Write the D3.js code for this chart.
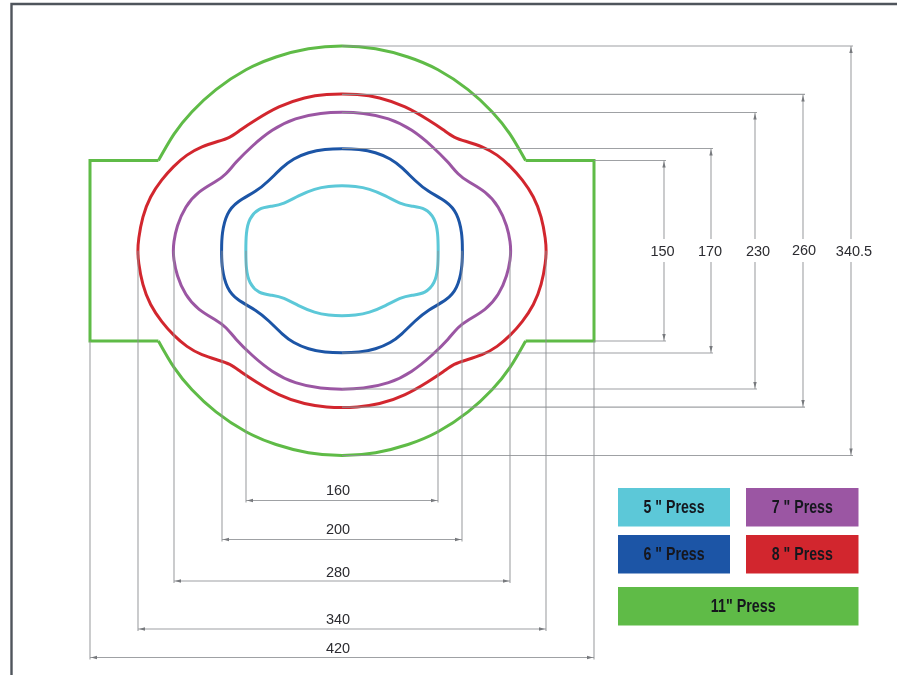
<!DOCTYPE html>
<html><head><meta charset="utf-8">
<script src="https://cdn.jsdelivr.net/npm/d3@7"></script>
<style>html,body{margin:0;padding:0;background:#fff}svg{display:block}</style>
</head><body><svg id="c" width="897" height="675"></svg>
<script>
// Press outlines: upper-left quadrant, in mm from the centre [across, up]
const press5 = [[-80.2,0],[-80,15],[-77.5,27],[-69.5,35.5],[-58,37],[-48.9,38.8],[-36.4,45.8],[-22.5,51.7],[-11,53.6],[0,54.2]];
const press6 = [[-100.4,0],[-100.2,14.8],[-96.1,31.4],[-87.8,41],[-71.1,49.4],[-61.4,57.8],[-49.2,70],[-40.8,76.5],[-28,82],[-14.2,84.6],[0,85]];
const press7 = [[-140.6,0],[-140.4,6.4],[-137.8,20.3],[-130.8,36.9],[-119.8,49.4],[-104.4,57.8],[-96.7,63.3],[-89.2,73],[-75.3,86.9],[-58.6,100.8],[-39.2,110.6],[-16.9,114.8],[0,115.2]];
const press8 = [[-170.2,0],[-169.8,9],[-166.4,28.4],[-160,45.2],[-150.3,59.2],[-140.6,70.2],[-129.4,80],[-116.9,86.9],[-103,91],[-93.3,94],[-85,100.2],[-72.5,108.5],[-53,120.2],[-30.8,128],[-11.4,130.2],[0,130.4]];
const press11Arc = [[-153,75],[-140,97],[-125,115.6],[-105,134],[-80,150.5],[-55,161.1],[-28,167.9],[0,170.25]];
const press11Side = [[-153,75],[-210,75],[-210,-75],[-153,-75]];
const widthDims = [160,200,280,340,420];
const heightDims = [150,170,230,260,340.5];
const legendNames = ['5 " Press','6 " Press','7 " Press','8 " Press','11" Press'];
const legendColors = ['#5bc8d8','#1c54a6','#9b57a3','#d2282f','#5fbb46'];

const svg = d3.select('#c');
const defs = svg.append('defs');
defs.append('filter').attr('id','soft').attr('x','-5%').attr('y','-5%').attr('width','110%').attr('height','110%')
  .append('feGaussianBlur').attr('stdDeviation',0.45);
const root = svg.append('g').attr('filter','url(#soft)');
root.append('rect').attr('width',897).attr('height',675).attr('fill','#fff');

const x = d3.scaleLinear().domain([-210,210]).range([90,594]);
const y = d3.scaleLinear().domain([-170.25,170.25]).range([455.5,46]);
const dimY = d3.scaleOrdinal(widthDims,[500.5,539.5,581,629,657.5]);
const dimLabelY = d3.scaleOrdinal(widthDims,[490,529,572,619,648]);
const dimX = d3.scaleOrdinal(heightDims,[664,711,755,803,851]);
const dimLabelX = d3.scaleOrdinal(heightDims,[662.5,710,758,804,854]);
const color = d3.scaleOrdinal(legendNames,legendColors);

// frame
root.append('path').attr('d',d3.line()([[11.5,675],[11.5,4],[897,4]]))
  .attr('fill','none').attr('stroke','#50545c').attr('stroke-width',2.4);

const arcLine = d3.line().x(d=>x(d[0])).y(d=>y(d[1])).curve(d3.curveNatural);
const straight = d3.line().x(d=>x(d[0])).y(d=>y(d[1]));
// mirror a quadrant into a closed outline
function full(q){
  const topR = q.slice(0,-1).reverse().map(([a,b])=>[-a,b]);
  const top = q.concat(topR);
  const bottom = top.slice(1,-1).reverse().map(([a,b])=>[a,-b]);
  return top.concat(bottom);
}
const closed = d3.line().x(d=>x(d[0])).y(d=>y(d[1])).curve(d3.curveBasisClosed);
function arc(q,sign){
  const topR = q.slice(0,-1).reverse().map(([a,b])=>[-a,b]);
  return q.concat(topR).map(([a,b])=>[a,sign*b]);
}

const marks = root.append('g').attr('fill','none').attr('stroke-width',3);
[[press8,3],[press7,2],[press6,1],[press5,0]].forEach(([q,i])=>{
  marks.append('path').attr('d',closed(full(q))).attr('stroke',legendColors[i]);
});
marks.append('path').attr('d',arcLine(arc(press11Arc,1))).attr('stroke',legendColors[4]);
marks.append('path').attr('d',arcLine(arc(press11Arc,-1))).attr('stroke',legendColors[4]);
marks.append('path').attr('d',straight(press11Side)).attr('stroke',legendColors[4]).attr('stroke-linejoin','miter');
marks.append('path').attr('d',straight(press11Side.map(([a,b])=>[-a,b]))).attr('stroke',legendColors[4]);

// dimension lines
const dims = root.append('g').attr('fill','none').attr('stroke','#8e9094').attr('stroke-width',1.1).attr('stroke-opacity',0.85);
const arrows = root.append('g').attr('fill','#77797d');
function arrowH(px,py,dir){arrows.append('path').attr('d',`M${px},${py}l${dir*6},-1.7v3.4z`);}
function arrowV(px,py,dir){arrows.append('path').attr('d',`M${px},${py}l-1.7,${dir*6}h3.4z`);}

widthDims.forEach(w=>{
  const l=x(-w/2), r=x(w/2), py=dimY(w), start = w===420 ? y(-75) : y(0);
  dims.append('path').attr('d',d3.line()([[l,start],[l,py+2]]));
  dims.append('path').attr('d',d3.line()([[r,start],[r,py+2]]));
  dims.append('path').attr('d',d3.line()([[l,py],[r,py]]));
  arrowH(l+1,py,1); arrowH(r-1,py,-1);
});
heightDims.forEach(h=>{
  const t=y(h/2), b=y(-h/2), px=dimX(h), start = h===150 ? x(210) : x(0);
  dims.append('path').attr('d',d3.line()([[start,t],[px+2,t]]));
  dims.append('path').attr('d',d3.line()([[start,b],[px+2,b]]));
  dims.append('path').attr('d',d3.line()([[px,t],[px,b]]));
  arrowV(px,t+1,1); arrowV(px,b-1,-1);
});

// labels
const labels = root.append('g').attr('font-family','"Liberation Sans",Arial,sans-serif').attr('font-size',14.5).attr('fill','#2c2c30').attr('text-anchor','middle');
widthDims.forEach(w=>{
  labels.append('text').attr('x',338).attr('y',dimLabelY(w)).attr('dy','0.36em').text(w);
});
heightDims.forEach(h=>{
  const cx=dimLabelX(h);
  labels.append('rect').attr('x',dimX(h)-6).attr('y',239).attr('width',12).attr('height',23).attr('fill','#fff');
  labels.append('text').attr('x',cx).attr('y',h===260?250:251).attr('dy','0.36em').text(h);
});

// legend
const legX = d3.scaleOrdinal(legendNames,[618,618,746,746,618]);
const legY = d3.scaleOrdinal(legendNames,[488,535,488,535,587]);
const legW = d3.scaleOrdinal(legendNames,[112,112,112.5,112.5,240.5]);
const legend = root.append('g');
legendNames.forEach(n=>{
  legend.append('rect').attr('x',legX(n)).attr('y',legY(n)).attr('width',legW(n)).attr('height',38.5).attr('fill',color(n));
  legend.append('text').attr('x',legX(n)+legW(n)/2+(n.startsWith('11')?5:0)).attr('y',legY(n)+18.5).attr('dy','0.36em')
    .attr('text-anchor','middle').attr('font-family','"Liberation Sans Narrow","Liberation Sans",Arial,sans-serif')
    .attr('font-weight','bold').attr('font-size',19).attr('fill','#14181f')
    .attr('textLength',n.startsWith('11')?65:61).attr('lengthAdjust','spacingAndGlyphs').text(n);
});
</script></body></html>
